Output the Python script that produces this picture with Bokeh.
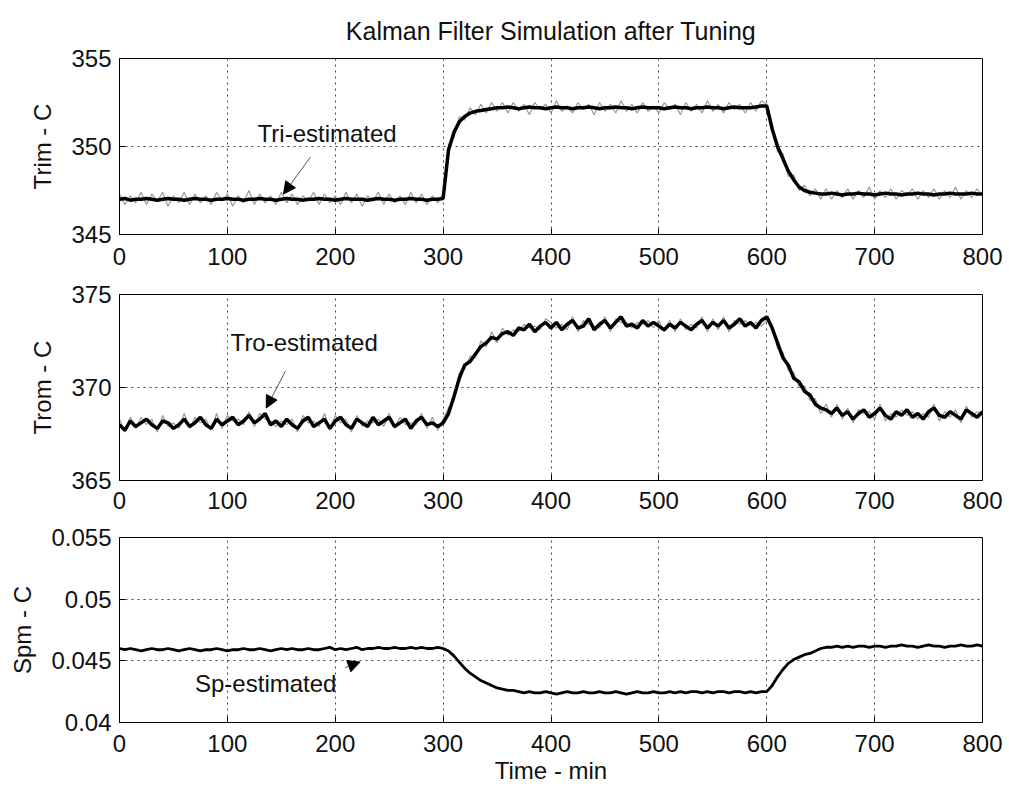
from bokeh.plotting import figure
from bokeh.layouts import column
from bokeh.models import Range1d, Arrow, NormalHead, Label, FixedTicker
from bokeh.embed import file_html
from bokeh.resources import INLINE

# ---------------- data ----------------
time_min = list(range(0, 805, 5))
x_ticks = [0, 100, 200, 300, 400, 500, 600, 700, 800]

trim_est = [
    347.0, 347.05, 346.95, 347.0, 347.0, 347.05, 347.0, 346.95, 347.0, 347.05,
    347.0, 347.0, 346.95, 347.0, 347.05, 347.0, 347.0, 346.95, 347.0, 347.0,
    347.05, 347.0, 347.0, 346.95, 347.0, 347.0, 347.05, 347.0, 347.0, 346.95,
    347.0, 347.05, 347.0, 347.0, 346.95, 347.0, 347.0, 347.05, 347.0, 347.0,
    346.95, 347.0, 347.05, 347.0, 347.0, 347.0, 346.95, 347.0, 347.05, 347.0,
    347.0, 346.95, 347.0, 347.0, 347.05, 347.0, 347.0, 346.95, 347.0, 347.0,
    347.05,
    349.8, 350.8, 351.4, 351.7, 351.9, 352.0, 352.05, 352.1, 352.15, 352.2, 352.2,
    352.25, 352.2, 352.15, 352.2, 352.25, 352.2, 352.2, 352.15, 352.2, 352.25,
    352.2, 352.2, 352.15, 352.2, 352.2, 352.25, 352.2, 352.15, 352.2, 352.2,
    352.25, 352.2, 352.2, 352.15, 352.2, 352.25, 352.2, 352.2, 352.2, 352.15,
    352.2, 352.25, 352.2, 352.2, 352.15, 352.2, 352.2, 352.25, 352.2, 352.2,
    352.15, 352.2, 352.25, 352.2, 352.2, 352.2, 352.25, 352.3, 352.3,
    351.0, 350.0, 349.3, 348.6, 348.1, 347.7, 347.5, 347.4, 347.35, 347.3,
    347.3, 347.35, 347.3, 347.25, 347.3, 347.3, 347.35, 347.3, 347.3, 347.25,
    347.3, 347.35, 347.3, 347.3, 347.25, 347.3, 347.3, 347.35, 347.3, 347.3,
    347.25, 347.3, 347.3, 347.35, 347.3, 347.3, 347.3, 347.35, 347.3, 347.3,
]

trim_meas = [
    347.3, 346.7, 347.2, 346.8, 347.4, 346.7, 347.3, 346.9, 347.4, 346.6,
    347.2, 346.8, 347.4, 346.7, 347.3, 346.8, 347.2, 346.7, 347.4, 346.9,
    347.3, 346.6, 347.2, 346.8, 347.5, 346.7, 347.3, 346.8, 347.2, 346.7,
    347.4, 346.8, 347.3, 346.7, 347.2, 346.9, 347.4, 346.7, 347.3, 346.8,
    347.2, 346.7, 347.4, 346.8, 347.3, 346.6, 347.2, 346.9, 347.4, 346.7,
    347.3, 346.8, 347.2, 346.7, 347.4, 346.8, 347.3, 346.7, 347.2, 346.8,
    347.3,
    350.1, 350.5, 351.7, 351.5, 352.2, 351.8, 352.4, 351.9, 352.5, 352.0, 352.5,
    351.9, 352.5, 352.0, 352.4, 351.8, 352.5, 352.1, 352.4, 351.9, 352.6,
    352.0, 352.3, 351.9, 352.5, 352.1, 352.4, 351.8, 352.5, 352.0, 352.4,
    351.9, 352.6, 352.0, 352.4, 351.9, 352.5, 352.0, 352.3, 351.9, 352.5,
    352.1, 352.4, 351.8, 352.5, 352.0, 352.4, 351.9, 352.6, 352.0, 352.4,
    351.9, 352.5, 352.1, 352.4, 351.9, 352.5, 352.0, 352.6, 352.4,
    351.3, 349.7, 349.6, 348.3, 348.4, 347.5, 347.8, 347.2, 347.6, 347.0,
    347.6, 347.0, 347.5, 347.1, 347.6, 347.0, 347.5, 347.1, 347.7, 347.0,
    347.5, 347.1, 347.6, 347.0, 347.5, 347.2, 347.6, 347.0, 347.5, 347.1,
    347.6, 347.0, 347.5, 347.1, 347.7, 347.0, 347.5, 347.1, 347.6, 347.2,
]

trom_est = [
    368.0, 367.7, 368.2, 367.9, 368.1, 368.3, 368.0, 367.8, 368.2, 368.1,
    367.8, 368.0, 368.3, 367.9, 368.1, 368.4, 368.0, 367.8, 368.3, 368.0,
    368.2, 368.4, 368.0, 368.2, 368.5, 368.1, 368.3, 368.6, 368.0, 368.2,
    367.9, 368.3, 368.0, 367.8, 368.2, 368.4, 367.9, 368.1, 368.3, 367.8,
    368.2, 368.4, 368.0, 367.8, 368.3, 368.1, 367.9, 368.4, 368.0, 368.2,
    368.4, 367.9, 368.1, 368.3, 367.8, 368.2, 368.4, 368.0, 368.1, 367.9,
    368.1,
    368.6, 369.5, 370.5, 371.2, 371.4, 371.8, 372.2, 372.4, 372.7, 372.6,
    372.9, 373.0, 372.8, 373.2, 373.1, 373.4, 373.0, 373.3, 373.5,
    373.2, 373.5, 373.1, 373.4, 373.6, 373.2, 373.3, 373.7, 373.1, 373.4,
    373.6, 373.2, 373.5, 373.8, 373.3, 373.4, 373.2, 373.6, 373.3, 373.5,
    373.3, 373.1, 373.4, 373.2, 373.5, 373.3, 373.1, 373.4, 373.6, 373.2,
    373.5, 373.3, 373.6, 373.2, 373.4, 373.7, 373.3, 373.5, 373.2, 373.6,
    373.8,
    373.2, 372.4, 371.6, 371.2, 370.5, 370.3, 369.8, 369.6, 369.1, 368.9,
    368.8, 368.6,
    368.9, 368.5, 368.7, 368.3, 368.6, 368.8, 368.4, 368.6, 368.9, 368.5,
    368.3, 368.7, 368.5, 368.8, 368.4, 368.6, 368.3, 368.7, 368.9, 368.5,
    368.4, 368.7, 368.5, 368.3, 368.8, 368.6, 368.4, 368.7,
]

trom_meas = [
    368.3, 367.6, 368.4, 367.8, 368.4, 368.0, 368.3, 367.6, 368.5, 367.9,
    368.1, 367.8, 368.6, 367.8, 368.4, 368.1, 368.3, 367.7, 368.6, 367.8,
    368.5, 368.2, 368.3, 368.0, 368.7, 367.9, 368.6, 368.3, 368.2, 367.9,
    368.2, 368.0, 368.3, 367.6, 368.5, 368.1, 368.2, 367.9, 368.6, 367.7,
    368.5, 368.1, 368.3, 367.6, 368.5, 367.9, 368.2, 368.1, 368.3, 367.9,
    368.6, 367.8, 368.4, 368.0, 368.1, 368.0, 368.6, 367.8, 368.4, 367.7,
    368.3,
    368.9, 369.3, 370.8, 371.0, 371.7, 371.6, 372.5, 372.2, 373.0, 372.4,
    373.2, 372.8, 373.1, 373.0, 373.4, 373.2, 373.3, 373.1, 373.7,
    373.5, 373.2, 373.4, 373.1, 373.8, 373.0, 373.6, 373.4, 373.3, 373.2,
    373.8, 373.0, 373.7, 373.5, 373.5, 373.2, 373.5, 373.4, 373.6, 373.2,
    373.6, 373.0, 373.6, 373.0, 373.7, 373.1, 373.4, 373.2, 373.8, 373.0,
    373.7, 373.1, 373.8, 373.0, 373.6, 373.4, 373.6, 373.3, 373.5, 373.3,
    373.6,
    373.4, 372.1, 371.9, 370.9, 370.8, 370.0, 370.1, 369.3, 369.4, 368.6,
    369.1, 368.4,
    369.1, 368.3, 368.9, 368.1, 368.8, 368.6, 368.7, 368.3, 369.1, 368.2,
    368.6, 368.4, 368.8, 368.5, 368.7, 368.3, 368.6, 368.4, 369.1, 368.2,
    368.7, 368.4, 368.8, 368.1, 369.0, 368.4, 368.7, 368.5,
]

spm_est = [
    0.0460, 0.0459, 0.0460, 0.0459, 0.0458, 0.0459, 0.0460, 0.0459, 0.0459, 0.0460,
    0.0459, 0.0458, 0.0459, 0.0460, 0.0459, 0.0458, 0.0459, 0.0459, 0.0460, 0.0459,
    0.0458, 0.0459, 0.0459, 0.0460, 0.0459, 0.0459, 0.0460, 0.0459, 0.0458, 0.0459,
    0.0460, 0.0459, 0.0460, 0.0459, 0.0459, 0.0460, 0.0459, 0.0459, 0.0460, 0.0461,
    0.0459, 0.0460, 0.0459, 0.0460, 0.0461, 0.0459, 0.0460, 0.0460, 0.0461, 0.0460,
    0.0460, 0.0461, 0.0460, 0.0460, 0.0461, 0.0460, 0.0461, 0.0460, 0.0460, 0.0461,
    0.0460,
    0.0458, 0.0454, 0.0449, 0.0444, 0.0440, 0.0437, 0.0434, 0.0432, 0.0430, 0.0428,
    0.0427, 0.0426, 0.0426, 0.0425,
    0.0424, 0.0425, 0.0424, 0.0424, 0.0425, 0.0424, 0.0423, 0.0424, 0.0425, 0.0424,
    0.0424, 0.0425, 0.0424, 0.0424, 0.0425, 0.0424, 0.0424, 0.0425, 0.0424, 0.0423,
    0.0424, 0.0425, 0.0424, 0.0424, 0.0425, 0.0424, 0.0424, 0.0425, 0.0424, 0.0425,
    0.0424, 0.0425, 0.0425, 0.0424, 0.0425, 0.0424, 0.0425, 0.0425, 0.0424, 0.0425,
    0.0425, 0.0424, 0.0425, 0.0424, 0.0425, 0.0425,
    0.0430, 0.0437, 0.0443, 0.0448, 0.0451, 0.0453, 0.0455, 0.0456, 0.0458, 0.0460,
    0.0461,
    0.0461, 0.0462, 0.0461, 0.0462, 0.0461, 0.0462, 0.0462, 0.0461, 0.0462, 0.0462,
    0.0461, 0.0462, 0.0462, 0.0463, 0.0462, 0.0462, 0.0461, 0.0462, 0.0463, 0.0462,
    0.0462, 0.0461, 0.0462, 0.0462, 0.0463, 0.0462, 0.0462, 0.0463, 0.0462,
]

trim_ticks = [345, 350, 355]
trom_ticks = [365, 370, 375]
spm_ticks = [0.04, 0.045, 0.05, 0.055]
spm_tick_labels = {0.04: "0.04", 0.045: "0.045", 0.05: "0.05", 0.055: "0.055"}

# annotation anchors (data units): text x, text y, arrow tail x,y, arrow head x,y
tri_note = ("Tri-estimated", 128, 350.75, 177, 349.4, 152, 347.3)
tro_note = ("Tro-estimated", 103, 372.4, 154, 370.9, 136, 368.9)
sp_note = ("Sp-estimated", 70, 0.0432, 209, 0.04445, 223, 0.0449)

FONT = "Liberation Sans"
FS = "24px"


def make_fig(height, top, bottom, yr, yticks, ylabel, xstand, xlabel=None, title=None):
    p = figure(width=1009, height=height, x_range=Range1d(0, 800), y_range=Range1d(*yr),
               output_backend="svg", toolbar_location=None,
               min_border_left=119, min_border_right=27,
               min_border_top=top, min_border_bottom=bottom)
    p.background_fill_color = "white"
    p.border_fill_color = "white"
    p.outline_line_color = "black"
    p.outline_line_width = 1
    if title:
        p.title.text = title
        p.title.align = "center"
        p.title.text_font = FONT
        p.title.text_font_size = "25px"
        p.title.text_font_style = "normal"
        p.title.text_color = "#111111"
        p.title.standoff = 28
    for ax in (p.xaxis[0], p.yaxis[0]):
        ax.major_label_text_font = FONT
        ax.major_label_text_font_size = FS
        ax.major_label_text_color = "#111111"
        ax.axis_label_text_font = FONT
        ax.axis_label_text_font_size = FS
        ax.axis_label_text_font_style = "normal"
        ax.axis_label_text_color = "#111111"
        ax.major_tick_in = 6
        ax.major_tick_out = 0
        ax.minor_tick_line_color = None
        ax.axis_line_color = "black"
        ax.major_tick_line_color = "black"
    p.xaxis[0].ticker = FixedTicker(ticks=x_ticks)
    p.yaxis[0].ticker = FixedTicker(ticks=yticks)
    p.xaxis[0].major_label_standoff = xstand
    p.yaxis[0].major_label_standoff = 8
    p.yaxis[0].axis_label = ylabel
    p.yaxis[0].axis_label_standoff = 12
    if xlabel:
        p.xaxis[0].axis_label = xlabel
        p.xaxis[0].axis_label_standoff = 2
    for g in (p.xgrid[0], p.ygrid[0]):
        g.grid_line_color = "#444444"
        g.grid_line_dash = "2 4"
        g.grid_line_width = 1
    return p


def annotate(p, note):
    txt, tx, ty, x0, y0, x1, y1 = note
    p.add_layout(Label(x=tx, y=ty, text=txt, text_font=FONT, text_font_size=FS,
                       text_color="#111111", text_baseline="middle"))
    p.add_layout(Arrow(x_start=x0, y_start=y0, x_end=x1, y_end=y1,
                       line_color="#555555", line_width=1,
                       end=NormalHead(size=12, fill_color="black", line_color="black")))


p1 = make_fig(276, 55, 42, (345, 355), trim_ticks, "Trim - C", 13,
              title="Kalman Filter Simulation after Tuning")
p1.line(time_min, trim_meas, line_color="#999999", line_width=1.2)
p1.line(time_min, trim_est, line_color="black", line_width=3.5)
annotate(p1, tri_note)

p2 = make_fig(242, 18, 38, (365, 375), trom_ticks, "Trom - C", 11)
p2.line(time_min, trom_meas, line_color="#999999", line_width=1.2)
p2.line(time_min, trom_est, line_color="black", line_width=3.5)
annotate(p2, tro_note)

p3 = make_fig(271, 19, 67, (0.04, 0.055), spm_ticks, "Spm - C", 12, xlabel="Time - min")
p3.yaxis[0].major_label_overrides = spm_tick_labels
p3.line(time_min, spm_est, line_color="black", line_width=2.8)
annotate(p3, sp_note)

layout = column(p1, p2, p3, spacing=0)
open("out.html", "w").write(file_html(layout, INLINE))
